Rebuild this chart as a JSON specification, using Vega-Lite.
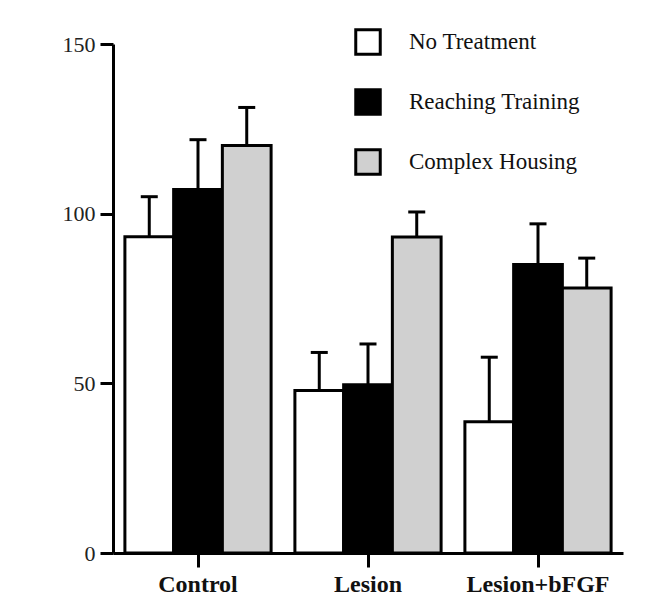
{
  "$schema": "https://vega.github.io/schema/vega-lite/v6.json",
  "width": 510,
  "height": 509,
  "autosize": {"type": "none"},
  "padding": {"left": 113, "top": 44, "right": 33, "bottom": 42},
  "background": "white",
  "config": {
    "view": {"stroke": null},
    "font": "Liberation Serif"
  },
  "data": {
    "values": [
      {"group": "Control", "treatment": "No Treatment", "mean": 93.2, "upper": 105.0},
      {"group": "Control", "treatment": "Reaching Training", "mean": 107.1, "upper": 121.8},
      {"group": "Control", "treatment": "Complex Housing", "mean": 120.1, "upper": 131.3},
      {"group": "Lesion", "treatment": "No Treatment", "mean": 47.9, "upper": 59.1},
      {"group": "Lesion", "treatment": "Reaching Training", "mean": 49.6, "upper": 61.6},
      {"group": "Lesion", "treatment": "Complex Housing", "mean": 93.1, "upper": 100.5},
      {"group": "Lesion+bFGF", "treatment": "No Treatment", "mean": 38.7, "upper": 57.7},
      {"group": "Lesion+bFGF", "treatment": "Reaching Training", "mean": 85.0, "upper": 97.0},
      {"group": "Lesion+bFGF", "treatment": "Complex Housing", "mean": 78.1, "upper": 86.9}
    ]
  },
  "encoding": {
    "x": {
      "field": "group",
      "type": "nominal",
      "sort": ["Control", "Lesion", "Lesion+bFGF"],
      "scale": {"paddingInner": 0.14, "paddingOuter": 0.07},
      "axis": {
        "title": null,
        "labelAngle": 0,
        "labelFont": "Liberation Serif",
        "labelFontWeight": "bold",
        "labelFontSize": 24,
        "labelColor": "#111",
        "labelPadding": 5,
        "domainColor": "black",
        "domainWidth": 3,
        "tickColor": "black",
        "tickWidth": 3,
        "tickSize": 14
      }
    },
    "xOffset": {
      "field": "treatment",
      "type": "nominal",
      "sort": ["No Treatment", "Reaching Training", "Complex Housing"],
      "scale": {"paddingInner": 0, "paddingOuter": 0}
    }
  },
  "layer": [
    {
      "mark": {"type": "bar", "stroke": "black", "strokeWidth": 3},
      "encoding": {
        "y": {
          "field": "mean",
          "type": "quantitative",
          "scale": {"domain": [0, 150], "nice": false},
          "axis": {
            "title": null,
            "values": [0, 50, 100, 150],
            "grid": false,
            "labelFont": "Liberation Serif",
            "labelFontSize": 22,
            "labelColor": "#222",
            "labelPadding": 5,
            "domainColor": "black",
            "domainWidth": 3,
            "tickColor": "black",
            "tickWidth": 3,
            "tickSize": 13
          }
        },
        "fill": {
          "field": "treatment",
          "type": "nominal",
          "sort": ["No Treatment", "Reaching Training", "Complex Housing"],
          "scale": {
            "domain": ["No Treatment", "Reaching Training", "Complex Housing"],
            "range": ["white", "black", "#d0d0d0"]
          },
          "legend": {
            "title": null,
            "orient": "none",
            "legendX": 241,
            "legendY": -16,
            "symbolType": "square",
            "symbolSize": 600,
            "symbolStrokeColor": "black",
            "symbolStrokeWidth": 3,
            "symbolOpacity": 1,
            "labelFont": "Liberation Serif",
            "labelFontSize": 23,
            "labelColor": "#111",
            "labelOffset": 27,
            "rowPadding": 22,
            "labelLimit": 300
          }
        }
      }
    },
    {
      "mark": {"type": "rule", "stroke": "black", "strokeWidth": 3},
      "encoding": {
        "y": {"field": "mean", "type": "quantitative"},
        "y2": {"field": "upper"}
      }
    },
    {
      "mark": {"type": "tick", "orient": "horizontal", "color": "black", "size": 17, "thickness": 3, "opacity": 1},
      "encoding": {
        "y": {"field": "upper", "type": "quantitative"}
      }
    }
  ]
}
